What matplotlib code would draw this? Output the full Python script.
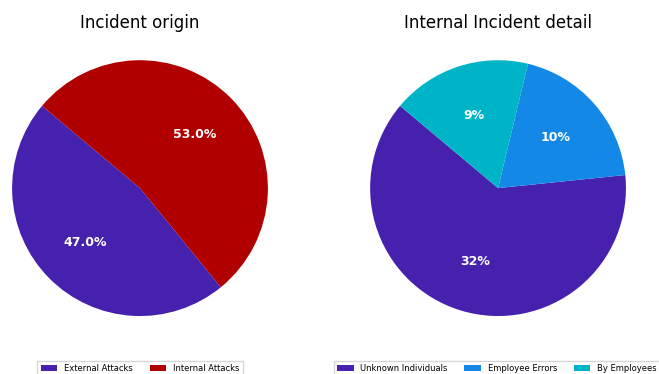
import matplotlib.pyplot as plt

# -----------------------
# Data
# -----------------------
origin_labels = ["External Attacks", "Internal Attacks"]
origin_values = [47.0, 53.0]
origin_colors = ["#4521AE", "#B00000"]

detail_labels = ["Unknown Individuals", "Employee Errors", "By Employees"]
detail_values = [32, 10, 9]
detail_colors = ["#4521AE", "#1488E6", "#00B4C8"]

# -----------------------
# Figure
# -----------------------
fig = plt.figure(figsize=(6.59, 3.74), dpi=100)
ax1 = fig.add_axes([0.0182, 0.155, 0.3885, 0.684])
ax2 = fig.add_axes([0.5615, 0.155, 0.3885, 0.684])

txt = dict(color="white", fontsize=9, fontweight="bold")

w1, _, _ = ax1.pie(origin_values, colors=origin_colors, startangle=140,
                   autopct="%1.1f%%", pctdistance=0.6, textprops=txt)

total = sum(detail_values)
w2, _, _ = ax2.pie(detail_values, colors=detail_colors, startangle=140,
                   autopct=lambda p: f"{round(p * total / 100)}%",
                   pctdistance=0.6, textprops=txt)

for ax in (ax1, ax2):
    ax.set_xlim(-1, 1)
    ax.set_ylim(-1, 1)
    ax.set_aspect("equal")

# titles
fig.text(0.2125, 0.939, "Incident origin", fontsize=12, ha="center", va="center")
fig.text(0.756, 0.939, "Internal Incident detail", fontsize=12, ha="center", va="center")

fig.legend(w1, origin_labels, loc="upper center", bbox_to_anchor=(0.2125, 0.047),
           ncol=2, fontsize=6, frameon=True, fancybox=False, edgecolor="#cccccc")
fig.legend(w2, detail_labels, loc="upper center", bbox_to_anchor=(0.754, 0.047),
           ncol=3, fontsize=6, frameon=True, fancybox=False, edgecolor="#cccccc")

fig.savefig("out.png", dpi=100)
